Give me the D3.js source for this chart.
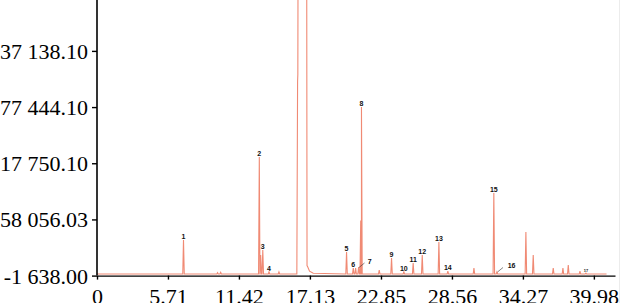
<!DOCTYPE html>
<html>
<head>
<meta charset="utf-8">
<script src="https://cdn.jsdelivr.net/npm/d3@7"></script>
<style>
  html, body { margin: 0; padding: 0; background: #fff; }
  svg { display: block; }
  .peak-label { font-family: "Liberation Sans", Arial, sans-serif; font-size: 7px; font-weight: bold; fill: #111; }
</style>
</head>
<body>
<div id="chart"></div>
<script>
// ---- data ----
var xTicks = [0, 5.71, 11.42, 17.13, 22.85, 28.56, 34.27, 39.98];
var xTickLabels = ["0", "5.71", "11.42", "17.13", "22.85", "28.56", "34.27", "39.98"];
var yTicks = [-1638.00, 58056.03, 117750.10, 177444.10, 237138.10];
var yTickLabels = ["-1 638.00", "58 056.03", "117 750.10", "177 444.10", "237 138.10"];

// retention time (min), abundance, peak number ('' = unlabelled)
var peakTimes   = [6.96, 9.70, 9.95, 13.06, 13.17, 13.34, 13.84, 14.64, 20.08, 20.62, 20.81, 21.05, 21.22, 21.28, 22.71, 23.70, 24.69, 25.44, 26.17, 27.51, 28.23, 30.33, 31.93, 32.18, 34.51, 35.10, 36.71, 37.49, 37.92, 38.86, 39.34];
var peakHeights = [36200, 1500, 1800, 124300, 20200, 25500, 2200, 2200, 23400, 6400, 6400, 7500, 57000, 177400, 4300, 17000, 2200, 11700, 20200, 34000, 3200, 6400, 86100, 2200, 44700, 20200, 6400, 6400, 9600, 3200, 1000];
var peakLabels  = ["1", "", "", "2", "", "3", "4", "", "5", "6", "", "7", "", "8", "", "9", "10", "11", "12", "13", "14", "", "15", "16", "", "", "", "", "", "", "17"];

// solvent peak, cut off at the top of the frame
var solventTimes  = [16.08, 16.14, 16.16, 16.20, 16.86, 16.90, 16.96, 17.10, 17.40];
var solventValues = [0, 205000, 212000, 500000, 500000, 9000, 7400, 3000, 800];

// ---- layout ----
var width = 623, height = 303;
var serif = "'Liberation Serif', 'Times New Roman', Times, serif";
var peakHalfWidth = 0.06;
var offsetLabels = { "7": [367.7, 263.5, 364.5, 263, 359, 267.5], "16": [507.7, 267.5, 503, 267.5, 497.5, 272] };

var x = d3.scaleLinear().domain([0, 41.68]).range([97, 615]);
var y = d3.scaleLinear().domain([-1638, 237138.10]).range([275.6, 50.9]);

var svg = d3.select("#chart").append("svg")
  .attr("width", width)
  .attr("height", height);

// faint frame edge on the right
svg.append("line")
  .attr("x1", 619.5).attr("x2", 619.5)
  .attr("y1", 0).attr("y2", height)
  .attr("stroke", "#ececec").attr("stroke-width", 1);

// build trace
var pts = [[0, 0]];
peakTimes.forEach(function(t, i) {
  pts.push([t - peakHalfWidth, 0]);
  pts.push([t, peakHeights[i]]);
  pts.push([t + peakHalfWidth, 0]);
});
solventTimes.forEach(function(t, i) { pts.push([t, solventValues[i]]); });
pts.push([41.0, 0]);
pts.sort(function(a, b) { return a[0] - b[0]; });

var line = d3.line()
  .x(function(d) { return x(d[0]); })
  .y(function(d) { return y(d[1]); });

svg.append("path")
  .datum(pts)
  .attr("d", line)
  .attr("fill", "none")
  .attr("stroke", "#f08a74")
  .attr("stroke-width", 1.1)
  .attr("stroke-linejoin", "miter");

// peak labels
peakTimes.forEach(function(t, i) {
  var lab = peakLabels[i];
  if (!lab) return;
  if (offsetLabels[lab]) {
    var o = offsetLabels[lab];
    svg.append("line")
      .attr("x1", o[2]).attr("y1", o[3])
      .attr("x2", o[4]).attr("y2", o[5])
      .attr("stroke", "#333").attr("stroke-width", 0.6);
    svg.append("text").attr("class", "peak-label")
      .attr("x", o[0]).attr("y", o[1])
      .attr("text-anchor", "start")
      .text(lab);
    return;
  }
  svg.append("text").attr("class", "peak-label")
    .attr("x", x(t)).attr("y", y(peakHeights[i]) - 1)
    .attr("text-anchor", "middle")
    .style("font-size", lab === "17" ? "4px" : null)
    .text(lab);
});

// axes
var xAxis = d3.axisBottom(x)
  .tickValues(xTicks)
  .tickFormat(function(d, i) { return xTickLabels[i]; })
  .tickSize(4)
  .tickSizeOuter(0)
  .tickPadding(9);

var gx = svg.append("g")
  .attr("transform", "translate(0," + y(-1638) + ")")
  .call(xAxis);
gx.selectAll("path, line").attr("stroke", "#000").attr("stroke-width", 1.4);

var yAxis = d3.axisLeft(y)
  .tickValues(yTicks)
  .tickFormat(function(d, i) { return yTickLabels[i]; })
  .tickSize(5)
  .tickSizeOuter(0)
  .tickPadding(4);

var gy = svg.append("g")
  .attr("transform", "translate(" + x(0) + ",0)")
  .call(yAxis);
gy.select(".domain").remove();
gy.selectAll("line").attr("stroke", "#000").attr("stroke-width", 1.4);
gy.selectAll("text").attr("dy", "0.34em");

[gx, gy].forEach(function(g) {
  g.attr("font-family", serif).attr("font-size", 22);
  g.selectAll("text").style("font-family", serif).style("font-size", "22px").attr("fill", "#000");
});

svg.append("line")
  .attr("x1", x(0)).attr("x2", x(0))
  .attr("y1", 0).attr("y2", y(-1638))
  .attr("stroke", "#000").attr("stroke-width", 1.6);
</script>
</body>
</html>
